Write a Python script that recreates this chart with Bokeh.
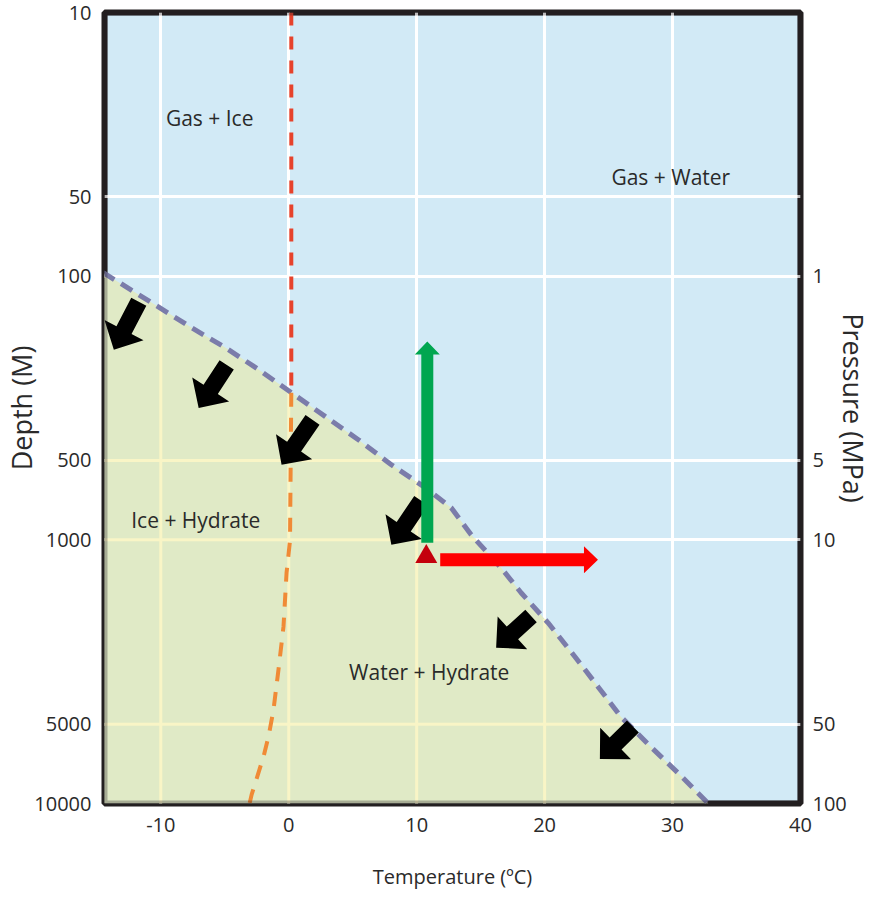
import numpy as np
from bokeh.plotting import figure
from bokeh.models import (Range1d, LogScale, LogAxis, FixedTicker, BoxAnnotation)
from bokeh.core.properties import value
from bokeh.embed import file_html
from bokeh.resources import INLINE

# ---------------- data ----------------
x_ticks = [-10, 0, 10, 20, 30, 40]
x_tick_labels = ["-10", "0", "10", "20", "30", "40"]
depth_ticks = [10, 50, 100, 500, 1000, 5000, 10000]
depth_tick_labels = ["10", "50", "100", "500", "1000", "5000", "10000"]
pressure_ticks = [1, 5, 10, 50, 100]
pressure_tick_labels = ["1", "5", "10", "50", "100"]
x_grid = [-10, 0, 10, 20, 30]
depth_grid = [50, 100, 500, 1000, 5000]

# hydrate stability boundary (temperature degC, depth m)
hyd_T = [-14.5, -10.16, -7.58, -4.93, -2.36, 0.22, 2.87, 5.44, 8.02, 10.67,
         12.7, 14.26, 16.6, 18.16, 20.27, 22.37, 24.17, 25.96, 28.3, 30.41, 32.8]
hyd_d = [97, 131, 157, 187, 226, 277, 341, 417, 519, 634,
         755, 957, 1277, 1588, 2064, 2775, 3604, 4688, 6096, 7646, 10000]

# ice melting line (above / below hydrate boundary)
ice_up_T = [0.2, 0.2]
ice_up_d = [10, 277]
ice_lo_T = [0.2, 0.1, -0.17, -0.41, -0.8, -1.19, -1.58, -1.97, -2.9, -3.06]
ice_lo_d = [277, 1007, 1334, 2134, 3105, 4405, 5575, 6640, 9250, 10000]

# black arrows: tail -> tip
arr_T0 = [-11.72, -4.85, 1.86, 10.36, 18.94, 26.9]
arr_d0 = [125, 217, 351, 711, 1945, 5105]
arr_T1 = [-13.67, -7.04, -0.56, 8.02, 16.21, 24.32]
arr_d1 = [190, 316, 519, 1045, 2565, 6775]

# green arrow (pressure drop), red arrow (warming), red triangle (start point)
green_T = [10.83]
green_d0 = [1026]
green_d1 = [177]
red_T0 = [11.84]
red_T1 = [24.17]
red_d = [1190]
start_T = [10.75]
start_d = [1159]

# region labels
region_names = ["Gas + Ice", "Gas + Water", "Ice + Hydrate", "Water + Hydrate"]
region_T = [-6.18, 29.86, -7.27, 10.98]
region_d = [25.1, 42, 840, 3160]

# ---------------- style ----------------
FONT = "Open Sans"
TXT = "#2a2a2a"
BLUE = "#d2eaf6"
GREEN = "#e0eac6"
GRID_ON_GREEN = "#f9f5c6"
FRAME_W, FRAME_H = 696, 791
X_START, X_END = -14.4, 40
D_TOP, D_BOTTOM = 10, 10000

p = figure(frame_width=FRAME_W, frame_height=FRAME_H,
           x_range=Range1d(X_START, X_END), y_range=Range1d(D_BOTTOM, D_TOP),
           y_axis_type="log", output_backend="svg", toolbar_location=None,
           min_border_top=12, min_border_left=0, min_border_right=0,
           min_border_bottom=0,
           background_fill_color=BLUE, border_fill_color="white",
           outline_line_color="#231f20", outline_line_width=6)

p.extra_y_ranges = {"pressure": Range1d(D_BOTTOM / 100, D_TOP / 100)}
p.extra_y_scales = {"pressure": LogScale()}


def style_axis(ax, tick_size, label_size):
    ax.axis_line_color = None
    ax.major_tick_line_color = None
    ax.minor_tick_line_color = None
    ax.major_tick_out = 0
    ax.major_tick_in = 0
    ax.minor_tick_out = 0
    ax.minor_tick_in = 0
    ax.major_label_text_font = FONT
    ax.major_label_text_font_size = f"{tick_size}px"
    ax.major_label_text_color = TXT
    ax.axis_label_text_font = FONT
    ax.axis_label_text_font_size = f"{label_size}px"
    ax.axis_label_text_font_style = "normal"
    ax.axis_label_text_color = TXT


xa = p.xaxis[0]
xa.ticker = FixedTicker(ticks=x_ticks)
xa.major_label_overrides = dict(zip(x_ticks, x_tick_labels))
xa.axis_label = "Temperature (\u00baC)"
style_axis(xa, 20, 20)
xa.major_label_standoff = 14
xa.axis_label_standoff = 28

ya = p.yaxis[0]
ya.ticker = FixedTicker(ticks=depth_ticks)
ya.major_label_overrides = dict(zip(depth_ticks, depth_tick_labels))
ya.axis_label = "Depth (M)"
style_axis(ya, 20, 27)
ya.major_label_standoff = 13
ya.axis_label_standoff = -9

ra = LogAxis(y_range_name="pressure", ticker=FixedTicker(ticks=pressure_ticks))
ra.major_label_overrides = dict(zip(pressure_ticks, pressure_tick_labels))
ra.axis_label = "Pressure (MPa)"
style_axis(ra, 20, 27)
ra.major_label_standoff = 12
ra.axis_label_standoff = -15
p.add_layout(ra, "right")

p.xgrid.ticker = FixedTicker(ticks=x_grid)
p.ygrid.ticker = FixedTicker(ticks=depth_grid)
for g in (p.xgrid[0], p.ygrid[0]):
    g.grid_line_color = "white"
    g.grid_line_width = 3
    g.grid_line_alpha = 1.0

# hydrate-stable region
green_xs = hyd_T + [hyd_T[0], hyd_T[0]]
green_ys = hyd_d + [hyd_d[-1], hyd_d[0]]
p.patch(green_xs, green_ys, fill_color=GREEN, line_color=None)

# pale grid lines inside the hydrate region
log_d = np.log10(hyd_d)
vx0, vy0, vx1, vy1 = [], [], [], []
for t in x_grid:
    vx0.append(t)
    vy0.append(10 ** np.interp(t, hyd_T, log_d))
    vx1.append(t)
    vy1.append(D_BOTTOM)
for d in depth_grid:
    if d > hyd_d[0]:
        vx0.append(X_START)
        vy0.append(d)
        vx1.append(float(np.interp(np.log10(d), log_d, hyd_T)))
        vy1.append(d)
p.segment(vx0, vy0, vx1, vy1, line_color=GRID_ON_GREEN, line_width=3)

# phase boundaries
p.line(hyd_T, hyd_d, line_color="#7b7caa", line_width=5, line_dash="13 8")
p.line(ice_up_T, ice_up_d, line_color="#e6432c", line_width=4, line_dash="13 11")
p.line(ice_lo_T, ice_lo_d, line_color="#f08a36", line_width=4, line_dash="14 11")

# block arrows: shape built in screen pixels around the data tail/tip points
SX = FRAME_W / (X_END - X_START)
SY = FRAME_H / (np.log10(D_BOTTOM) - np.log10(D_TOP))


def block_arrow(t0, d0, t1, d1, shaft_w, head_w, head_len):
    a = np.array([(t0 - X_START) * SX, (np.log10(d0) - np.log10(D_TOP)) * SY])
    b = np.array([(t1 - X_START) * SX, (np.log10(d1) - np.log10(D_TOP)) * SY])
    u = (b - a) / np.hypot(*(b - a))
    n = np.array([-u[1], u[0]])
    base = b - u * head_len
    pts = [a + n * shaft_w / 2, base + n * shaft_w / 2, base + n * head_w / 2, b,
           base - n * head_w / 2, base - n * shaft_w / 2, a - n * shaft_w / 2]
    xs = [float(q[0] / SX + X_START) for q in pts]
    ys = [float(10 ** (q[1] / SY + np.log10(D_TOP))) for q in pts]
    return xs, ys


bx, by = [], []
for t0, d0, t1, d1 in zip(arr_T0, arr_d0, arr_T1, arr_d1):
    xs, ys = block_arrow(t0, d0, t1, d1, 17, 44, 22)
    bx.append(xs)
    by.append(ys)
p.patches(bx, by, fill_color="black", line_color=None)

gx, gy = block_arrow(green_T[0], green_d0[0], green_T[0], green_d1[0], 12, 25, 13)
p.patch(gx, gy, fill_color="#00a650", line_color=None)

rx, ry = block_arrow(red_T0[0], red_d[0], red_T1[0], red_d[0], 13, 27, 14)
p.patch(rx, ry, fill_color="#ff0000", line_color=None)

# start point
p.scatter(start_T, start_d, marker="triangle", size=22,
          fill_color="#c4000c", line_color=None)

# region labels
p.text(x=region_T, y=region_d, text=region_names,
       text_font=value(FONT), text_font_size="21px", text_color=TXT,
       text_align="center", text_baseline="middle")

# frame border on top of everything
p.add_layout(BoxAnnotation(left=X_START, right=X_END, top=D_TOP, bottom=D_BOTTOM,
                           fill_alpha=0, line_color="#231f20", line_width=6,
                           level="overlay"))

open("out.html", "w").write(file_html(p, INLINE))
